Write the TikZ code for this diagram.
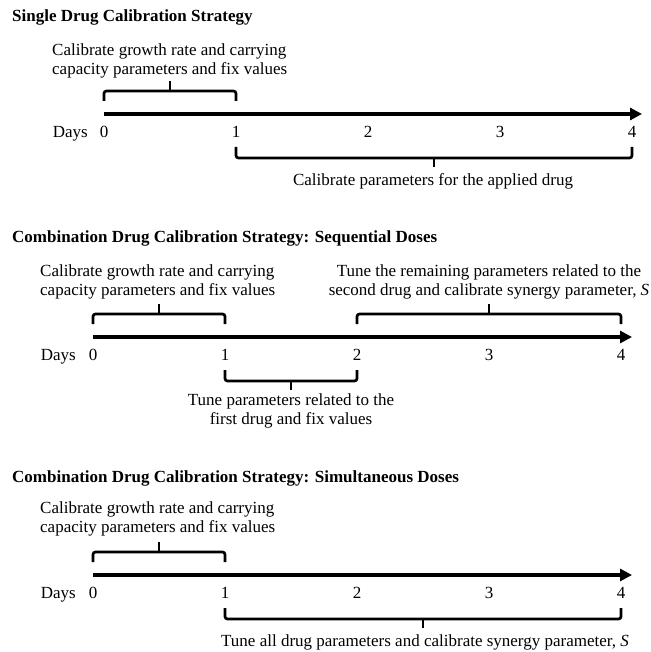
\documentclass[tikz,border=0pt]{standalone}
\usepackage{fontspec}
\setmainfont{Liberation Serif}
\usetikzlibrary{arrows.meta,calc}

\newcommand{\txt}{\fontsize{17}{19.5}\selectfont}
% bracket over / under a stretch of the time axis
\newcommand{\bracketup}[2]{%
        \draw[bracket] ($(#1)+(0,-13)$) |- ($(#2)+(0,-23)$) -- ($(#2)+(0,-13)$);
        \draw[bracket] ($(#1)!0.5!(#2)+(0,-23)$) -- ++(0,-10);}
\newcommand{\bracketdown}[2]{%
        \draw[bracket] ($(#1)+(0,33)$) |- ($(#2)+(0,44)$) -- ($(#2)+(0,33)$);
        \draw[bracket] ($(#1)!0.5!(#2)+(0,44)$) -- ++(0,9);}

\begin{document}
\begin{tikzpicture}
                \tikzset{x=1pt, y=-1pt}
                \tikzstyle{title}=[anchor=west, inner sep=0, font=\txt\bfseries]
                \tikzstyle{note}=[inner sep=0, font=\txt]
                \tikzstyle{day}=[inner sep=0, font=\txt, text height=11pt, text depth=0pt]
                \tikzstyle{axis}=[line width=4pt, -{Triangle[length=12pt, width=12pt]}]
                \tikzstyle{bracket}=[line width=2.7pt, rounded corners=2.5pt]

                \useasboundingbox (0,0) rectangle (650,652);

                % single drug
                \foreach \d in {0,...,4}
                        \draw (104+132*\d, 114) coordinate (a\d)
                              ++(0, 18)  node[day]  (la\d) {\d};
                \coordinate (aend) at (642, 114);
                \draw (12, 17)      node[title]         (ta)    {Single Drug Calibration Strategy};
                \draw (52, 61)      node[note, anchor=west, align=left] (fita)
                        {Calibrate growth rate and carrying\\capacity parameters and fix values};
                \draw (88, 132)     node[day, anchor=east] (daysa) {Days};
                \draw (433, 181)    node[note]          (druga) {Calibrate parameters for the applied drug};
                \draw [axis]        (a0) -- (aend);
                \bracketup{a0}{a1}
                \bracketdown{a1}{a4}

                % sequential doses
                \foreach \d in {0,...,4}
                        \draw (93+132*\d, 337) coordinate (b\d)
                              ++(0, 18)  node[day]  (lb\d) {\d};
                \coordinate (bend) at (632, 337);
                \draw (12, 238)     node[title]         (tb)    {Combination Drug Calibration Strategy: Sequential Doses};
                \draw (40, 282)     node[note, anchor=west, align=left] (fitb)
                        {Calibrate growth rate and carrying\\capacity parameters and fix values};
                \draw (489, 282)    node[note, align=center] (secondb)
                        {Tune the remaining parameters related to the\\second drug and calibrate synergy parameter, \textit{S}};
                \draw (76, 355)     node[day, anchor=east] (daysb) {Days};
                \draw (291, 411)    node[note, align=center] (firstb)
                        {Tune parameters related to the\\first drug and fix values};
                \draw [axis]        (b0) -- (bend);
                \bracketup{b0}{b1}
                \bracketup{b2}{b4}
                \bracketdown{b1}{b2}

                % simultaneous doses
                \foreach \d in {0,...,4}
                        \draw (93+132*\d, 575) coordinate (c\d)
                              ++(0, 18)  node[day]  (lc\d) {\d};
                \coordinate (cend) at (632, 575);
                \draw (12, 478)     node[title]         (tc)    {Combination Drug Calibration Strategy: Simultaneous Doses};
                \draw (40, 519)     node[note, anchor=west, align=left] (fitc)
                        {Calibrate growth rate and carrying\\capacity parameters and fix values};
                \draw (76, 593)     node[day, anchor=east] (daysc) {Days};
                \draw (425, 642)    node[note]          (allc)
                        {Tune all drug parameters and calibrate synergy parameter, \textit{S}};
                \draw [axis]        (c0) -- (cend);
                \bracketup{c0}{c1}
                \bracketdown{c1}{c4}
            \end{tikzpicture}
\end{document}
